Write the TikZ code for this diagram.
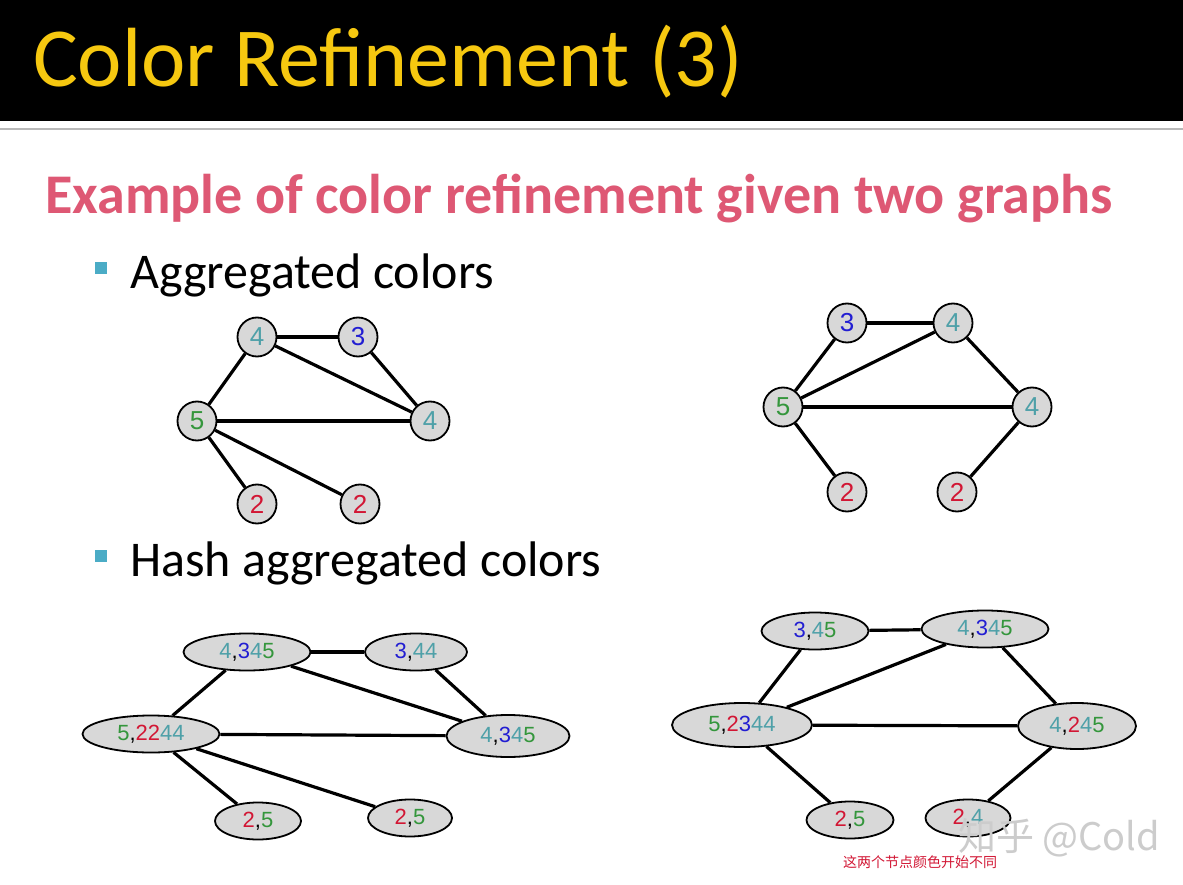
\documentclass[tikz,border=0pt]{standalone}
\usepackage{fontspec}
\setmainfont{Carlito}
\newfontfamily\arialfont{Liberation Sans}
\newfontfamily\cjkfont{Noto Sans CJK SC}
\usetikzlibrary{shapes.geometric}
\definecolor{titleyellow}{RGB}{246,200,16}
\definecolor{subpink}{RGB}{222,88,116}
\definecolor{bulletblue}{RGB}{75,172,198}
\definecolor{nodegray}{RGB}{216,216,216}
\definecolor{cgreen}{RGB}{52,150,60}
\definecolor{cteal}{RGB}{78,160,168}
\definecolor{cblue}{RGB}{34,30,210}
\definecolor{cred}{RGB}{210,22,52}
\newcommand{\cG}[1]{\textcolor{cgreen}{#1}}
\newcommand{\cT}[1]{\textcolor{cteal}{#1}}
\newcommand{\cB}[1]{\textcolor{cblue}{#1}}
\newcommand{\cR}[1]{\textcolor{cred}{#1}}
\tikzset{
  vert/.style={circle, draw=black, line width=1.8pt, fill=nodegray, minimum size=39pt,
               inner sep=0pt, font=\arialfont\fontsize{26}{26}\selectfont},
  hashv/.style={ellipse, draw=black, line width=1.8pt, fill=nodegray, minimum height=37pt,
               inner sep=0pt, font=\arialfont\fontsize{22}{22}\selectfont},
  link/.style={line width=3.2pt, draw=black},
  bullet/.style={fill=bulletblue, minimum size=12pt, inner sep=0pt},
  item/.style={anchor=base west, font=\fontsize{50}{50}\selectfont, text=black, inner sep=0pt},
}

\begin{document}
\begin{tikzpicture}[x=1pt, y=-1pt]
  \useasboundingbox (0,0) rectangle (1183,885);
  \fill[white] (0,0) rectangle (1183,885);
  % title bar
  \fill[black] (0,0) rectangle (1183,121);
  \draw[gray!55, line width=2pt] (0,129) -- (1183,129);
  \node[anchor=base west, inner sep=0pt, text=titleyellow, font=\fontsize{84}{84}\selectfont]
    (title) at (33,87) {Color Refinement (3)};
  \node[anchor=base west, inner sep=0pt, text=subpink, font=\bfseries\fontsize{56}{56}\selectfont]
    (sub) at (45,214) {Example of color refinement given two graphs};

  % bullets
  \node[bullet] (b1) at (101,268) {};
  \node[item] (agg) at (130,288) {Aggregated colors};
  \node[bullet] (b2) at (101,556) {};
  \node[item] (hash) at (130,576) {Hash aggregated colors};

  % graph 1, aggregated colors
  \node[vert] (a4t) at (257,337) {\cT{4}};
  \node[vert] (a3)  at (358,337) {\cB{3}};
  \node[vert] (a5)  at (197,421) {\cG{5}};
  \node[vert] (a4r) at (430,421) {\cT{4}};
  \node[vert] (a2l) at (257,504) {\cR{2}};
  \node[vert] (a2r) at (360,504) {\cR{2}};
  \draw[link] (a4t) -- (a3);
  \draw[link] (a4t) -- (a5);
  \draw[link] (a4t) -- (a4r);
  \draw[link] (a3) -- (a4r);
  \draw[link] (a5) -- (a4r);
  \draw[link] (a5) -- (a2l);
  \draw[link] (a5) -- (a2r);

  % graph 2, aggregated colors
  \node[vert] (b3)  at (847,323) {\cB{3}};
  \node[vert] (b4t) at (953,323) {\cT{4}};
  \node[vert] (b5)  at (783,407) {\cG{5}};
  \node[vert] (b4r) at (1032,407) {\cT{4}};
  \node[vert] (b2l) at (847,492) {\cR{2}};
  \node[vert] (b2r) at (957,492) {\cR{2}};
  \draw[link] (b3) -- (b4t);
  \draw[link] (b3) -- (b5);
  \draw[link] (b4t) -- (b5);
  \draw[link] (b4t) -- (b4r);
  \draw[link] (b5) -- (b4r);
  \draw[link] (b5) -- (b2l);
  \draw[link] (b4r) -- (b2r);

  % graph 1, hashed
  \node[hashv, minimum width=127pt] (h4t) at (247,652) {\cT{4},\cB{3}\cT{4}\cG{5}};
  \node[hashv, minimum width=102pt] (h3)  at (416,652) {\cB{3},\cT{44}};
  \node[hashv, minimum width=137pt] (h5)  at (151,734) {\cG{5},\cR{22}\cT{44}};
  \node[hashv, minimum width=123pt, minimum height=42pt] (h4r) at (508,736) {\cT{4},\cB{3}\cT{4}\cG{5}};
  \node[hashv, minimum width=86pt] (h2l) at (258,821) {\cR{2},\cG{5}};
  \node[hashv, minimum width=84pt] (h2r) at (410,818) {\cR{2},\cG{5}};
  \draw[link] (h4t) -- (h3);
  \draw[link] (h4t) -- (h5);
  \draw[link] (h4t) -- (h4r);
  \draw[link] (h3) -- (h4r);
  \draw[link] (h5) -- (h4r);
  \draw[link] (h5) -- (h2l);
  \draw[link] (h5) -- (h2r);

  % graph 2, hashed
  \node[hashv, minimum width=107pt] (k3)  at (815,631) {\cB{3},\cT{4}\cG{5}};
  \node[hashv, minimum width=127pt] (k4t) at (985,629) {\cT{4},\cB{3}\cT{4}\cG{5}};
  \node[hashv, minimum width=140pt, minimum height=44pt] (k5)  at (742,725) {\cG{5},\cR{2}\cB{3}\cT{44}};
  \node[hashv, minimum width=118pt, minimum height=46pt] (k4r) at (1077,726) {\cT{4},\cR{2}\cT{4}\cG{5}};
  \node[hashv, minimum width=87pt] (k2l) at (850,820) {\cR{2},\cG{5}};
  \node[hashv, minimum width=85pt] (k2r) at (968,818) {\cR{2},\cT{4}};
  \draw[link] (k3) -- (k4t);
  \draw[link] (k3) -- (k5);
  \draw[link] (k4t) -- (k5);
  \draw[link] (k4t) -- (k4r);
  \draw[link] (k5) -- (k4r);
  \draw[link] (k5) -- (k2l);
  \draw[link] (k4r) -- (k2r);

  % note and watermark
  \node[text=cred, font=\cjkfont\fontsize{14}{14}\selectfont, inner sep=0pt]
    (note) at (920,862) {这两个节点颜色开始不同};
  \node[anchor=base west, text=gray!40, font=\cjkfont\fontsize{38}{38}\selectfont, inner sep=0pt]
    (mark) at (958,850) {知乎 @Cold};
\end{tikzpicture}
\end{document}
